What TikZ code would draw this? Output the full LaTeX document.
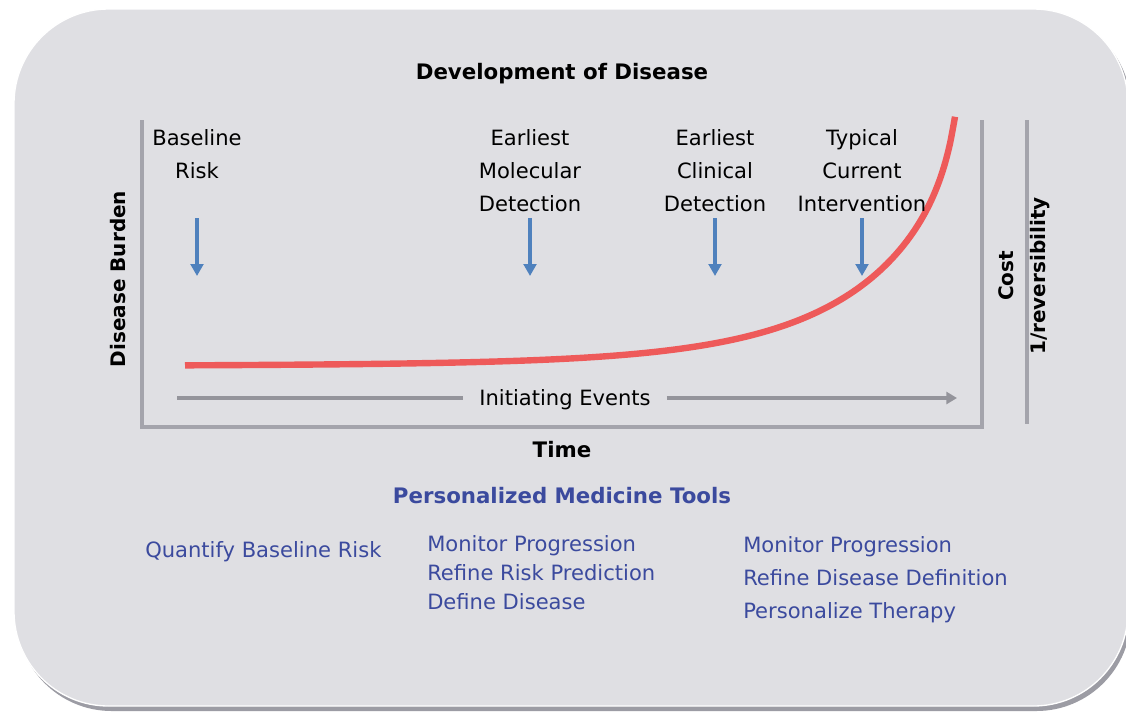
\documentclass[tikz,border=0pt]{standalone}
\usepackage{fontspec}
\setmainfont{DejaVu Sans}
\usetikzlibrary{arrows.meta}

\definecolor{panelgray}{HTML}{DFDFE3}
\definecolor{shadegray}{HTML}{9C9CA4}
\definecolor{axisgray}{HTML}{A4A4AC}
\definecolor{curvered}{HTML}{EE5A5A}
\definecolor{arrowblue}{HTML}{4F81BD}
\definecolor{toolblue}{HTML}{3B4A9E}

\begin{document}
\begin{tikzpicture}[x=0.75pt,y=-0.75pt,
  axis/.style={axisgray, line width=2.4pt},
  stagelabel/.style={inner sep=0pt, align=center, font=\fontsize{15.8}{25}\selectfont},
  heading/.style={inner sep=0pt, font=\fontsize{16}{19}\selectfont\bfseries},
  sidelabel/.style={inner sep=0pt, rotate=90, font=\fontsize{15}{18}\selectfont\bfseries},
  tool/.style={inner sep=0pt, align=left, text=toolblue, font=\fontsize{15.8}{24.75}\selectfont},
  marker/.style={arrowblue, line width=2.5pt, -{Triangle[width=9.5pt,length=9pt]}},
  evline/.style={axisgray!90!black, line width=2.5pt}
]

\useasboundingbox[fill=white] (0,0) rectangle (1126,715);

% panel
\fill[shadegray, rounded corners=71pt] (17,13) rectangle (1131,711);
\fill[panelgray, rounded corners=71pt] (14,9) rectangle (1128,706);
\draw[white, line width=1pt, rounded corners=71pt] (14,9) rectangle (1128,706);

\node[heading, anchor=base] (title) at (562,79) {Development of Disease};

% axes
\coordinate (tl) at (142,120);
\coordinate (bl) at (142,427);
\coordinate (br) at (982,427);
\coordinate (tr) at (982,120);
\draw[axis] (tl) -- (bl) -- (br) -- (tr);
\coordinate (cost-top) at (1027,120);
\coordinate (cost-bot) at (1027,424);
\draw[axis] (cost-top) -- (cost-bot);

\node[sidelabel] (burden) at (118,279) {Disease Burden};
\node[sidelabel] (cost) at (1006,276) {Cost};
\node[sidelabel] (revers) at (1040,276) {1/reversibility};

\draw[curvered, line width=4.8pt, domain=185:955, samples=160, smooth]
  plot ({\x},{368-6*exp((\x-600)/110)-2000/(975-\x)});

\foreach \x/\name/\txt in {197/base/{Baseline\\Risk},
  530/mol/{Earliest\\Molecular\\Detection},
  715/clin/{Earliest\\Clinical\\Detection},
  862/interv/{Typical\\Current\\Intervention}}
{
  \node[stagelabel, anchor=north] (\name) at (\x,129) {\txt};
  \coordinate (\name-top) at (\x,218);
  \coordinate (\name-bot) at (\x,276);
  \draw[marker] (\name-top) -- (\name-bot);
}

% initiating events
\coordinate (ev-start) at (177,398);
\coordinate (ev-end) at (957,398);
\node[stagelabel, anchor=base, inner xsep=12pt] (events) at (565,405) {Initiating Events};
\draw[evline] (ev-start) -- (ev-start -| events.west);
\draw[evline, -{Triangle[width=9pt,length=8pt]}] (ev-start -| events.east) -- (ev-end);

\node[heading, anchor=base] (time) at (562,457) {Time};
\node[heading, anchor=base, text=toolblue] (tools) at (562,503) {Personalized Medicine Tools};

\node[tool, anchor=base west] (quantify) at (145,557) {Quantify Baseline Risk};
\node[tool, anchor=north west, font=\fontsize{15.8}{21.75}\selectfont] (tools-mid) at (427,535.6)
  {Monitor Progression\\Refine Risk Prediction\\Define Disease};
\node[tool, anchor=north west] (tools-right) at (743,536.6)
  {Monitor Progression\\Refine Disease Definition\\Personalize Therapy};

\end{tikzpicture}
\end{document}
